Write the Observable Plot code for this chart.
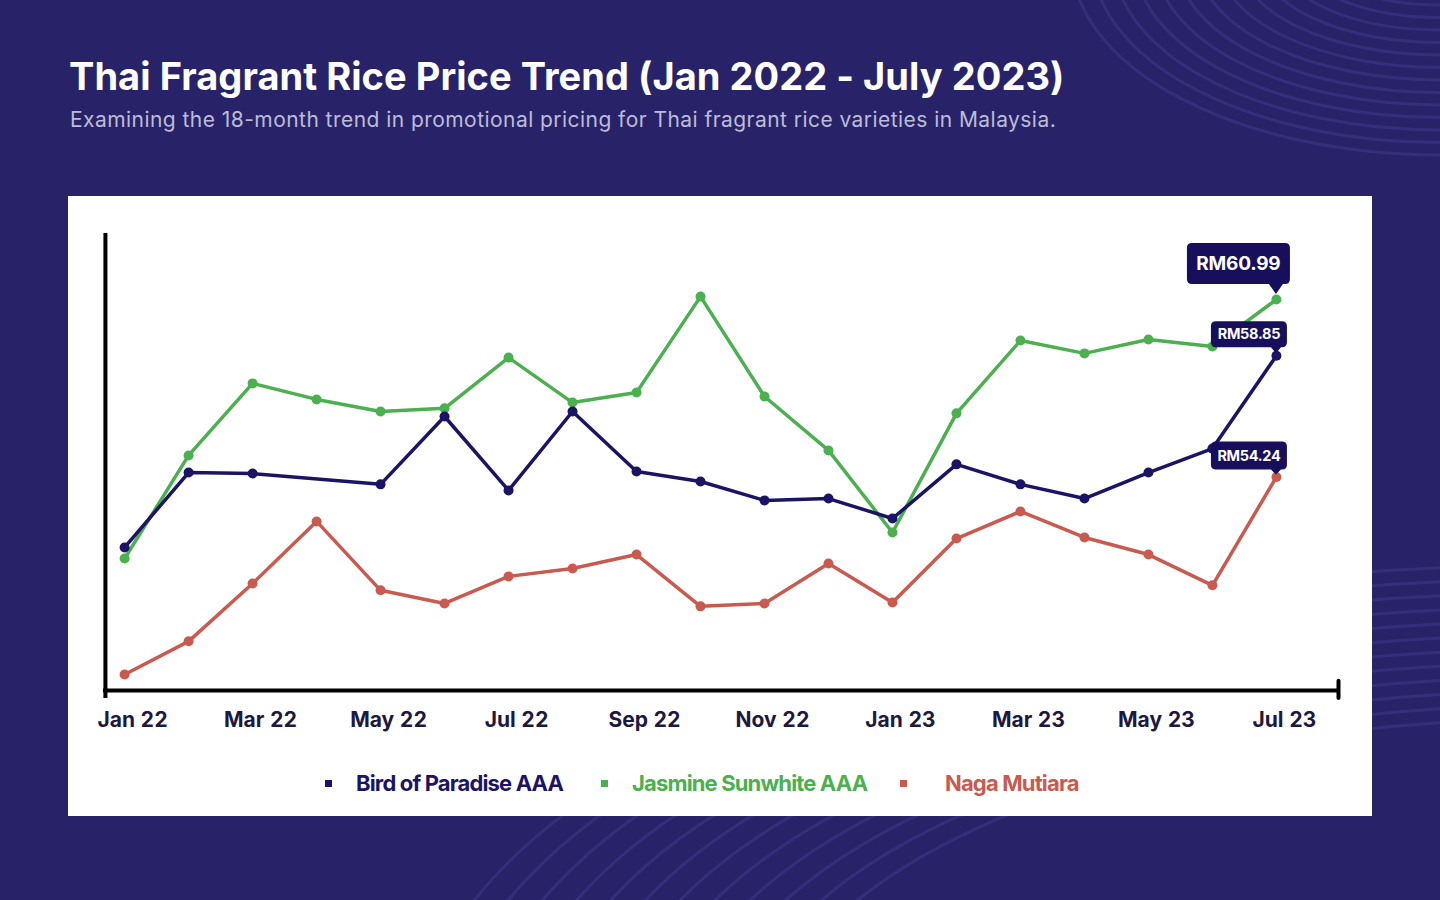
<!DOCTYPE html>
<html>
<head>
<meta charset="utf-8">
<script src="https://cdn.jsdelivr.net/npm/d3@7"></script>
<script src="https://cdn.jsdelivr.net/npm/@observablehq/plot@0.6"></script>
<style>
  html, body { margin: 0; padding: 0; width: 1440px; height: 900px; overflow: hidden; background: #282369; font-family: Inter, "Noto Sans", sans-serif; }
  #bg { position: absolute; left: 0; top: 0; }
  #title { position: absolute; left: 69px; top: 57px; margin: 0; font-size: 38px; line-height: 1; font-weight: 700; color: #ffffff; letter-spacing: 0.05px; white-space: nowrap; }
  #subtitle { position: absolute; left: 70px; top: 109px; margin: 0; font-size: 21px; line-height: 1; font-weight: 400; color: #bdbcd8; letter-spacing: 0.45px; white-space: nowrap; }
  #panel { position: absolute; left: 68px; top: 196px; width: 1304px; height: 620px; background: #ffffff; }
  #chart { position: absolute; left: 0; top: 0; }
  .lg-sq { position: absolute; width: 7px; height: 7px; top: 584px; }
  .lg-tx { position: absolute; top: 576px; font-size: 22px; line-height: 1; font-weight: 700; letter-spacing: -0.85px; white-space: nowrap; }
</style>
</head>
<body>
<svg id="bg" width="1440" height="900"></svg>
<h1 id="title">Thai Fragrant Rice Price Trend (Jan 2022 - July 2023)</h1>
<p id="subtitle">Examining the 18-month trend in promotional pricing for Thai fragrant rice varieties in Malaysia.</p>
<div id="panel"><div id="chart"></div><div id="legend"></div></div>
<script>
// ---------------- data ----------------
const months = ["Jan 22","Feb 22","Mar 22","Apr 22","May 22","Jun 22","Jul 22","Aug 22","Sep 22","Oct 22","Nov 22","Dec 22","Jan 23","Feb 23","Mar 23","Apr 23","May 23","Jun 23","Jul 23"];
const tickMonths = ["Jan 22","Mar 22","May 22","Jul 22","Sep 22","Nov 22","Jan 23","Mar 23","May 23","Jul 23"];
const seriesNames = ["Bird of Paradise AAA", "Jasmine Sunwhite AAA", "Naga Mutiara"];
const seriesColors = ["#1b1464", "#4caf50", "#c95a50"];
const birdOfParadise = [51.56, 54.41, 54.37, null, 53.96, 56.54, 53.73, 56.73, 54.45, 54.07, 53.35, 53.42, 52.66, 54.72, 53.96, 53.42, 54.41, 55.32, 58.85];
const jasmineSunwhite = [51.14, 55.06, 57.80, 57.19, 56.73, 56.85, 58.78, 57.07, 57.45, 61.10, 57.30, 55.25, 52.13, 56.66, 59.43, 58.94, 59.47, 59.20, 60.99];
const nagaMutiara = [46.73, 47.99, 50.19, 52.55, 49.93, 49.43, 50.46, 50.76, 51.29, 49.32, 49.43, 50.95, 49.47, 51.90, 52.93, 51.94, 51.29, 50.12, 54.24];
const yDomain = [46.12, 63.5];
const xDomain = [-0.33, 18.97];

// ---------------- tidy table ----------------
const seriesValues = [birdOfParadise, jasmineSunwhite, nagaMutiara];
const drawOrder = [1, 0, 2];
const rows = [];
for (const s of drawOrder) {
  seriesValues[s].forEach((v, i) => { if (v != null) rows.push({i, month: months[i], series: seriesNames[s], price: v}); });
}
const callouts = [
  {i: 18, value: jasmineSunwhite[18], big: true},
  {i: 18, value: birdOfParadise[18], big: false, h: 26, gap: 8},
  {i: 18, value: nagaMutiara[18], big: false, h: 28, gap: 7}
];

function calloutMark(index, scales) {
  const g = d3.create("svg:g");
  for (const c of callouts) {
    const px = scales.x(c.i), py = scales.y(c.value);
    const left = c.big ? 89 : 65, w = c.big ? 103 : 76, h = c.big ? 41 : c.h;
    const gap = c.big ? 15 : c.gap, tipGap = c.big ? 5 : 2, r = 5;
    const x0 = px - left, x1 = x0 + w, y1 = py - gap, y0 = y1 - h;
    const tw = c.big ? 7 : 5;
    const d = `M${x0 + r},${y0}H${x1 - r}Q${x1},${y0} ${x1},${y0 + r}V${y1 - r}Q${x1},${y1} ${x1 - r},${y1}` +
      `H${px + tw}L${px},${py - tipGap}L${px - tw},${y1}H${x0 + r}Q${x0},${y1} ${x0},${y1 - r}V${y0 + r}Q${x0},${y0} ${x0 + r},${y0}Z`;
    g.append("path").attr("d", d).attr("fill", "#170f5c");
    g.append("text")
      .attr("x", x0 + w / 2).attr("y", y0 + h / 2).attr("dy", "0.36em")
      .attr("text-anchor", "middle").attr("fill", "#ffffff")
      .attr("font-family", "Inter, sans-serif").attr("font-weight", 700)
      .attr("font-size", c.big ? 19 : 14.5).attr("letter-spacing", c.big ? "-0.2px" : "-0.3px")
      .text("RM" + c.value.toFixed(2));
  }
  return g.node();
}

const tickIdx = tickMonths.map(m => months.indexOf(m));

const chart = Plot.plot({
  width: 1304,
  height: 550,
  marginLeft: 35,
  marginRight: 34,
  marginTop: 37,
  marginBottom: 56,
  style: {fontFamily: "Inter, sans-serif", color: "#1c1840", background: "transparent", overflow: "visible"},
  x: {type: "linear", domain: xDomain, label: null},
  y: {domain: yDomain, axis: null},
  color: {domain: seriesNames, range: seriesColors},
  marks: [
    Plot.ruleY([yDomain[0]], {stroke: "#000", strokeWidth: 4}),
    Plot.ruleX([xDomain[0] + 0.03], {y1: yDomain[0] - 0.3, y2: yDomain[1], stroke: "#000", strokeWidth: 4}),
    Plot.ruleX([xDomain[1]], {y1: yDomain[0] - 0.3, y2: yDomain[0] + 0.35, stroke: "#000", strokeWidth: 4, strokeLinecap: "round"}),
    Plot.axisX(tickIdx, {tickFormat: i => months[i], tickSize: 0, tickPadding: 22, fontSize: 21, fontWeight: 700, dx: 8, color: "#1c1840", label: null}),
    Plot.line(rows, {x: "i", y: "price", z: "series", stroke: "series", strokeWidth: 3.5, curve: "linear"}),
    Plot.dot(rows, {x: "i", y: "price", fill: "series", r: 5, stroke: "none"}),
    calloutMark
  ]
});
document.getElementById("chart").appendChild(chart);

// ---------------- legend ----------------
const legend = document.getElementById("legend");
const lgPos = [{sq: 257, tx: 288}, {sq: 533, tx: 564}, {sq: 832, tx: 877}];
seriesNames.forEach((name, k) => {
  const sq = document.createElement("div");
  sq.className = "lg-sq"; sq.style.left = lgPos[k].sq + "px"; sq.style.background = seriesColors[k];
  const tx = document.createElement("div");
  tx.className = "lg-tx"; tx.style.left = lgPos[k].tx + "px"; tx.style.color = seriesColors[k];
  tx.textContent = name;
  legend.appendChild(sq); legend.appendChild(tx);
});

// ---------------- decorative background contours ----------------
const bg = d3.select("#bg");
for (let k = 0; k < 14; k++) {
  bg.append("ellipse").attr("cx", 1440).attr("cy", -40)
    .attr("rx", 368 - k * 21).attr("ry", 195 - k * 12.5)
    .attr("fill", "none").attr("stroke", "#352f7b").attr("stroke-width", 3);
}
for (let k = 0; k < 12; k++) {
  bg.append("ellipse").attr("cx", 1560).attr("cy", 1060)
    .attr("rx", 1147 - k * 32).attr("ry", 495 - k * 14)
    .attr("fill", "none").attr("stroke", "#352f7b").attr("stroke-width", 3);
}
</script>
</body>
</html>
